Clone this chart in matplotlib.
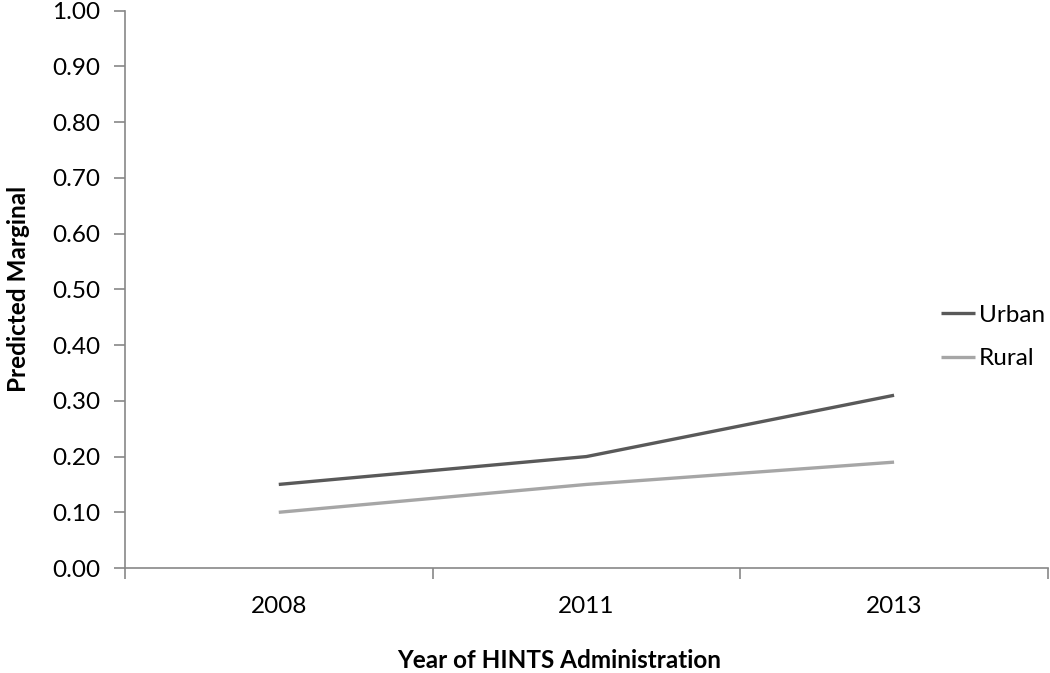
import matplotlib
matplotlib.use("Agg")
import matplotlib.pyplot as plt

years = ["2008", "2011", "2013"]
urban = [0.15, 0.20, 0.31]
rural = [0.10, 0.15, 0.19]
yticks = [0.0, 0.1, 0.2, 0.3, 0.4, 0.5, 0.6, 0.7, 0.8, 0.9, 1.0]

plt.rcParams['font.family'] = ['Lato', 'DejaVu Sans']
FS = 17.5

fig = plt.figure(figsize=(10.5, 6.73), dpi=100)
ax = fig.add_axes([0.119, 0.156, 0.879, 0.828])

x = list(range(len(years)))
ax.plot(x, urban, color="#595959", lw=2.4, label="Urban", solid_capstyle="butt")
ax.plot(x, rural, color="#A6A6A6", lw=2.4, label="Rural", solid_capstyle="butt")

ax.set_xlim(-0.5, len(years) - 0.5)
ax.set_ylim(0, 1.0)
ax.set_yticks(yticks)
ax.set_yticklabels([f"{v:.2f}" for v in yticks])
ax.set_xticks([i - 0.5 for i in range(len(years) + 1)])
ax.set_xticklabels([])
ax.set_xticks(x, minor=True)
ax.set_xticklabels(years, minor=True)
ax.tick_params(axis="x", which="minor", length=0, pad=20, labelsize=FS)
ax.tick_params(axis="x", which="major", length=8, width=1.2, color="#878787", direction="out")
ax.tick_params(axis="y", length=8, width=1.2, color="#878787", direction="out", labelsize=FS, pad=10)

for s in ["top", "right"]:
    ax.spines[s].set_visible(False)
for s in ["left", "bottom"]:
    ax.spines[s].set_color("#878787")
    ax.spines[s].set_linewidth(1.2)

ax.set_xlabel("Year of HINTS Administration", fontsize=FS, fontweight="bold")
ax.xaxis.set_label_coords(0.47, -0.166)
ax.xaxis.label.set_va("center")
ax.set_ylabel("Predicted Marginal", fontsize=FS, fontweight="bold", labelpad=16)

leg = ax.legend(loc="upper left", bbox_to_anchor=(0.884, 0.472), frameon=False,
                fontsize=FS, handlelength=1.4, handletextpad=0.15, labelspacing=0.91,
                borderpad=0, borderaxespad=0)

fig.savefig("out.png", dpi=100)
